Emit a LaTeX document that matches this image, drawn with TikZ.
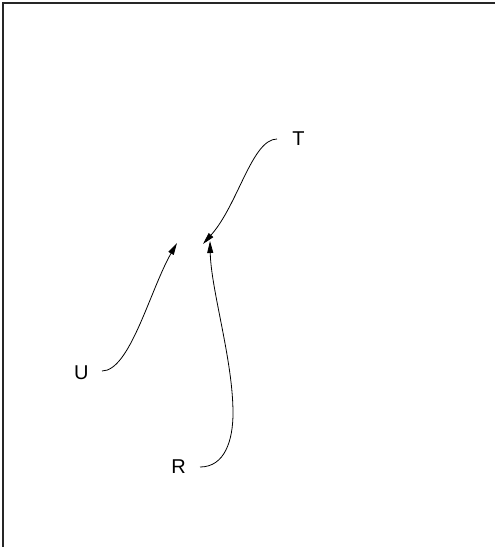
\documentclass[tikz,border=0pt]{standalone}
\usepackage{fontspec}
\setmainfont{Liberation Sans}
\usetikzlibrary{arrows.meta}
\begin{document}
\begin{tikzpicture}[x=1pt,y=1pt,
  lbl/.style={font=\fontsize{20}{24}\selectfont, inner sep=0pt},
  conn/.style={line width=0.8pt, -{Triangle[length=12pt,width=6pt]}}]
\useasboundingbox (0,0) rectangle (495,-547);
\draw[line width=1.3pt, black!85] (3,-547) -- (3,-3) -- (495,-3);
\node[lbl] (T) at (298.5,-139) {T};
\node[lbl] (U) at (81.3,-372.5) {U};
\node[lbl] (R) at (178.5,-467) {R};
\coordinate (tT) at (203,-244);
\coordinate (tU) at (177,-243);
\coordinate (tR) at (210,-241);
\coordinate (mR) at (233,-413);
\draw[conn] (277,-139) .. controls (252,-139) and (238,-205) .. (tT);
\draw[conn] (102,-371) .. controls (130,-371) and (150,-290) .. (tU);
\draw[conn] (200,-467) .. controls (225,-467) and (233,-440) .. (mR) .. controls (233,-360) and (211,-290) .. (tR);
\end{tikzpicture}
\end{document}
